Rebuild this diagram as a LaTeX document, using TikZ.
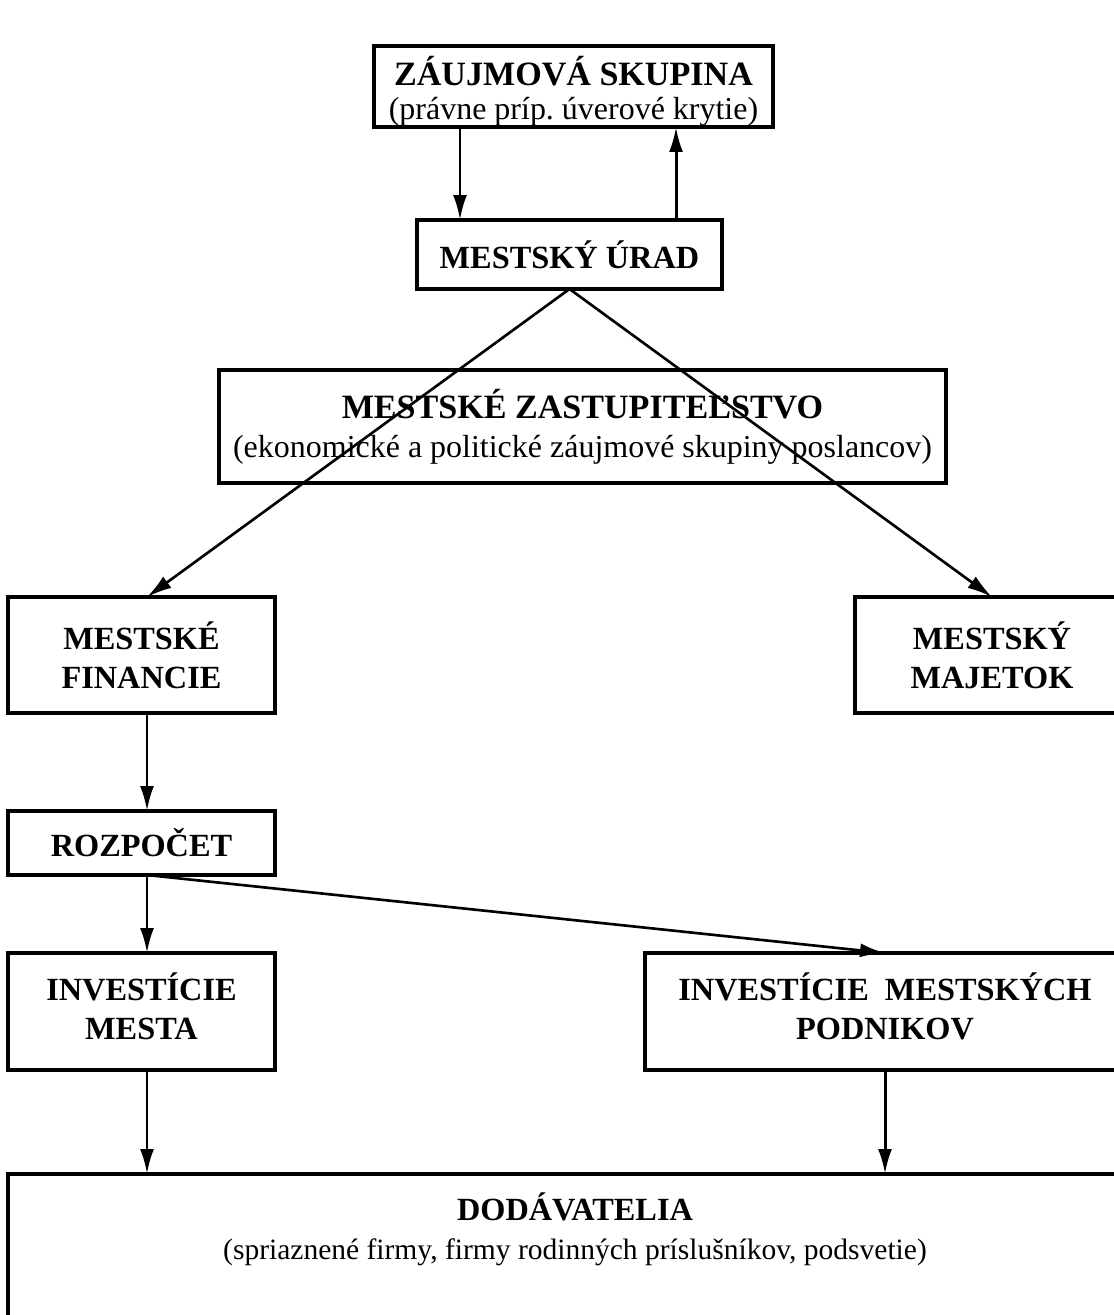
\documentclass[tikz,border=0pt]{standalone}
\usepackage{fontspec}
\setmainfont{Liberation Serif}
\usetikzlibrary{arrows.meta,positioning,fit}

\newcommand{\boxhead}{\fontsize{18.4}{22}\selectfont\bfseries}
\newcommand{\bighead}{\fontsize{19.4}{22}\selectfont\bfseries}
\newcommand{\bignote}{\fontsize{18.2}{22}\selectfont\mdseries}
\newcommand{\boxnote}{\fontsize{16.8}{22}\selectfont\mdseries}

\tikzset{
  arr/.style={-{Latex[length=0.5cm,width=0.28cm]}, line width=1.7pt},
  slant/.style={arr, line width=1.5pt},
}

\begin{document}
\begin{tikzpicture}[x=0.02cm, y=-0.02cm,
    every fit/.style={inner sep=0pt, outer sep=0pt, draw, line width=2pt},
    every label/.style={align=center, font=\boxhead}]
  \clip (0,0) rectangle (1114,1315);
  \begin{scope}
    \node (zaujm) [fit={(374,46) (773,127)}, label={[font=\bighead, yshift=-0.1cm]center:{ZÁUJMOVÁ SKUPINA\\[-0.08cm] \bignote (právne príp.\ úverové krytie)}}] {};
    \node (urad) [fit={(417,220) (722,289)}, label=center:{MESTSKÝ ÚRAD}] {};
    \node (zastup) [fit={(219,370) (946,483)}, label={[font=\bighead]center:{MESTSKÉ ZASTUPITEĽSTVO\\ \bignote (ekonomické a politické záujmové skupiny poslancov)}}] {};
    \node (financie) [fit={(8,597) (275,713)}, label=center:{MESTSKÉ\\ FINANCIE}] {};
    \node (majetok) [fit={(855,597) (1129,713)}, label=center:{MESTSKÝ\\ MAJETOK}] {};
    \node (rozpocet) [fit={(8,811) (275,875)}, label=center:{ROZPOČET}] {};
    \node (invmesta) [fit={(8,953) (275,1070)}, label={[yshift=0.1cm]center:{INVESTÍCIE\\ MESTA}}] {};
    \node (invpodn) [fit={(645,953) (1125,1070)}, label={[yshift=0.1cm]center:{INVESTÍCIE~ MESTSKÝCH\\ PODNIKOV}}] {};
    \node (dodav) [fit={(8,1174) (1142,1330)}, label={[yshift=0.45cm]center:{DODÁVATELIA\\ \boxnote (spriaznené firmy, firmy rodinných príslušníkov, podsvetie)}}] {};
  \end{scope}

  % spojnice
  \coordinate (xl) at (460,0);
  \coordinate (xr) at (676,0);
  \coordinate (xc) at (147,0);
  \draw[arr] (zaujm.south -| xl) -- (urad.north -| xl);
  \draw[arr] (urad.north -| xr) -- (zaujm.south -| xr);
  \draw[slant] (urad.south) -- (financie.north -| xc);
  \draw[slant] (urad.south) -- (majetok.north);
  \draw[arr] (financie.south -| xc) -- (rozpocet.north -| xc);
  \draw[arr] (rozpocet.south -| xc) -- (invmesta.north -| xc);
  \draw[slant] (rozpocet.south -| xc) -- (invpodn.north);
  \draw[arr] (invmesta.south -| xc) -- (dodav.north -| xc);
  \draw[arr] (invpodn.south) -- (dodav.north -| invpodn.south);
\end{tikzpicture}
\end{document}
